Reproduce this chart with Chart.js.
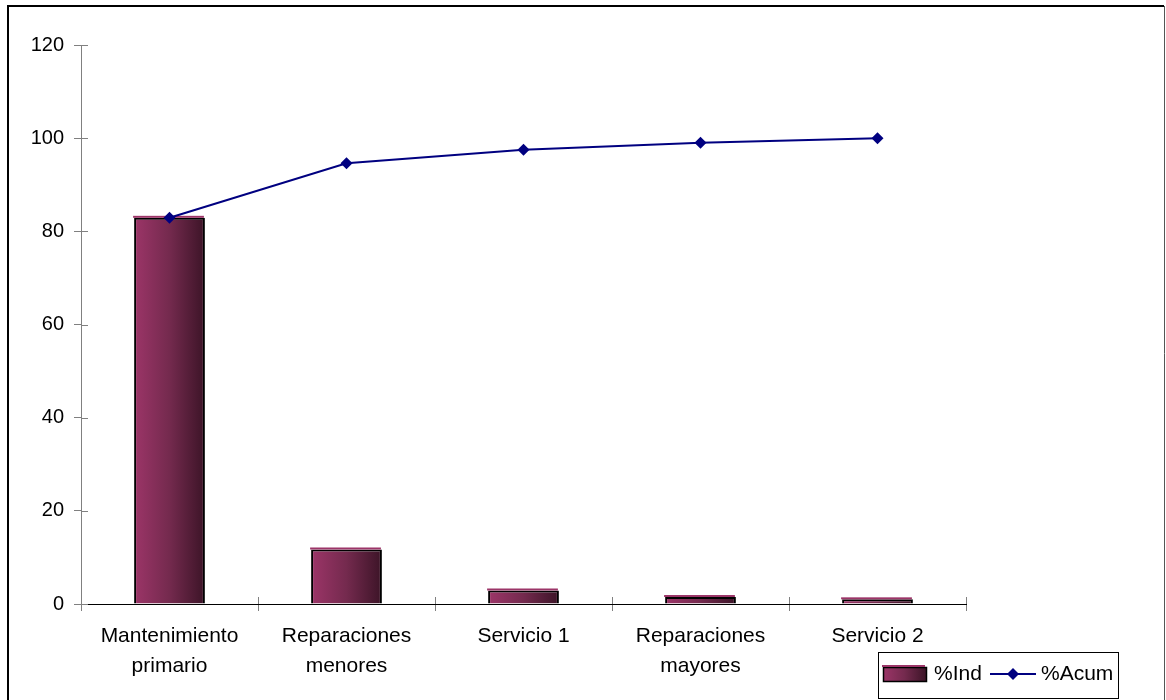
<!DOCTYPE html>
<html>
<head>
<meta charset="utf-8">
<script src="https://cdn.jsdelivr.net/npm/chart.js@4/dist/chart.umd.min.js"></script>
<style>
html,body{margin:0;padding:0;background:#fff;}
canvas{display:block;}
</style>
</head>
<body>
<canvas id="c" width="1166" height="700"></canvas>
<script>
const categories = [['Mantenimiento','primario'], ['Reparaciones','menores'], ['Servicio 1'], ['Reparaciones','mayores'], ['Servicio 2']];
const pctInd = [82.9, 11.7, 2.9, 1.5, 1.0];
const pctAcum = [82.9, 94.6, 97.5, 99.0, 100];
const yTicks = [0, 20, 40, 60, 80, 100, 120];
const seriesNames = ['%Ind', '%Acum'];

const FONT = '"Liberation Sans", Arial, sans-serif';

function barGradient(ctx, x0, x1) {
  const g = ctx.createLinearGradient(x0, 0, x1, 0);
  g.addColorStop(0, '#9c3568');
  g.addColorStop(0.5, '#742a4e');
  g.addColorStop(1, '#3c1427');
  return g;
}

const framePlugin = {
  id: 'frame',
  beforeDraw(chart) {
    const ctx = chart.ctx;
    ctx.save();
    ctx.fillStyle = '#fff';
    ctx.fillRect(0, 0, chart.width, chart.height);
    ctx.strokeStyle = '#000';
    ctx.lineWidth = 2;
    ctx.beginPath();
    ctx.moveTo(8, 720); ctx.lineTo(8, 6); ctx.lineTo(1164, 6);
    ctx.stroke();
    ctx.strokeStyle = '#555';
    ctx.lineWidth = 1;
    ctx.beginPath();
    ctx.moveTo(1164.5, 6); ctx.lineTo(1164.5, 720);
    ctx.stroke();
    ctx.restore();
  },
  afterDatasetDraw(chart, args) {
    if (args.meta.type !== 'bar') return;
    const ctx = chart.ctx;
    ctx.save();
    // pink top face of each 3D bar
    ctx.fillStyle = '#9c3568';
    args.meta.data.forEach(el => {
      const p = el.getProps(['x', 'y', 'width'], true);
      ctx.fillRect(p.x - p.width / 2 - 1, p.y - 2, p.width, 2);
    });
    ctx.restore();
  },
  afterDraw(chart) {
    const ctx = chart.ctx;
    const xs = chart.scales.x, ys = chart.scales.y;
    const a = chart.chartArea;
    ctx.save();
    // inner halves of the crossing tick marks
    ctx.strokeStyle = '#808080';
    ctx.lineWidth = 1;
    ctx.beginPath();
    ys.ticks.forEach(t => {
      const y = Math.round(ys.getPixelForValue(t.value)) + 0.5;
      ctx.moveTo(a.left, y); ctx.lineTo(a.left + 7, y);
    });
    const n = categories.length;
    for (let i = 0; i <= n; i++) {
      const x = Math.round(xs.getPixelForValue(i - 0.5)) + 0.5;
      ctx.moveTo(x, a.bottom); ctx.lineTo(x, a.bottom - 7);
    }
    ctx.stroke();

    // legend
    const lx = 878, ly = 652, lw = 240, lh = 46;
    ctx.fillStyle = '#fff';
    ctx.fillRect(lx, ly, lw, lh);
    ctx.strokeStyle = '#000';
    ctx.strokeRect(lx + 0.5, ly + 0.5, lw, lh);
    const cy = ly + 22;
    // bar swatch
    ctx.fillStyle = barGradient(ctx, 883, 926);
    ctx.fillRect(883, cy - 7, 43, 14);
    ctx.strokeStyle = '#000';
    ctx.lineWidth = 1.5;
    ctx.strokeRect(883.5, cy - 6.5, 43, 14);
    ctx.fillStyle = '#9c3568';
    ctx.fillRect(882, cy - 9, 43, 2);
    ctx.fillStyle = '#000';
    ctx.font = '21px ' + FONT;
    ctx.textBaseline = 'middle';
    ctx.textAlign = 'left';
    ctx.fillText(seriesNames[0], 934, cy);
    // line swatch
    ctx.strokeStyle = '#000080';
    ctx.lineWidth = 2;
    ctx.beginPath();
    ctx.moveTo(990, cy); ctx.lineTo(1036, cy);
    ctx.stroke();
    ctx.fillStyle = '#000080';
    ctx.beginPath();
    ctx.moveTo(1013, cy - 6); ctx.lineTo(1019, cy); ctx.lineTo(1013, cy + 6); ctx.lineTo(1007, cy);
    ctx.closePath(); ctx.fill();
    ctx.fillStyle = '#000';
    ctx.fillText(seriesNames[1], 1041, cy);
    ctx.restore();
  }
};

new Chart(document.getElementById('c'), {
  type: 'bar',
  data: {
    labels: categories,
    datasets: [
      {
        type: 'line',
        label: seriesNames[1],
        data: pctAcum,
        borderColor: '#000080',
        backgroundColor: '#000080',
        borderWidth: 2,
        pointStyle: 'rectRot',
        pointRadius: 6,
        pointHoverRadius: 6,
        pointBorderWidth: 0,
        tension: 0,
        order: 0
      },
      {
        type: 'bar',
        label: seriesNames[0],
        data: pctInd,
        backgroundColor: (c) => {
          const ch = c.chart;
          if (!ch.chartArea || !ch.scales.x) return '#742a4e';
          const x = ch.scales.x.getPixelForValue(c.dataIndex);
          const half = (ch.scales.x.width / categories.length) * 0.2;
          return barGradient(ch.ctx, x - half, x + half);
        },
        borderColor: '#000',
        borderWidth: 2,
        borderSkipped: 'bottom',
        categoryPercentage: 1.0,
        barPercentage: 0.4,
        order: 1
      }
    ]
  },
  options: {
    responsive: false,
    animation: false,
    devicePixelRatio: 1,
    layout: { padding: { top: 45, right: 200, left: 0, bottom: 0 } },
    plugins: {
      legend: { display: false },
      tooltip: { enabled: false }
    },
    scales: {
      x: {
        offset: true,
        grid: { display: true, drawOnChartArea: false, offset: true, tickLength: 7, color: '#808080' },
        border: { display: true, color: '#000', width: 1 },
        ticks: {
          color: '#000',
          font: { family: FONT, size: 21, lineHeight: 1.43 },
          padding: 10,
          maxRotation: 0,
          autoSkip: false
        },
        afterFit: (s) => { s.height = 96; }
      },
      y: {
        min: 0,
        max: 120,
        afterBuildTicks: (s) => { s.ticks = yTicks.map(v => ({ value: v })); },
        grid: { display: true, drawOnChartArea: false, tickLength: 7, color: '#808080' },
        border: { display: true, color: '#808080', width: 1 },
        ticks: {
          color: '#000',
          font: { family: FONT, size: 20 },
          padding: 10
        },
        afterFit: (s) => { s.width = 81; }
      }
    }
  },
  plugins: [framePlugin]
});
</script>
</body>
</html>
